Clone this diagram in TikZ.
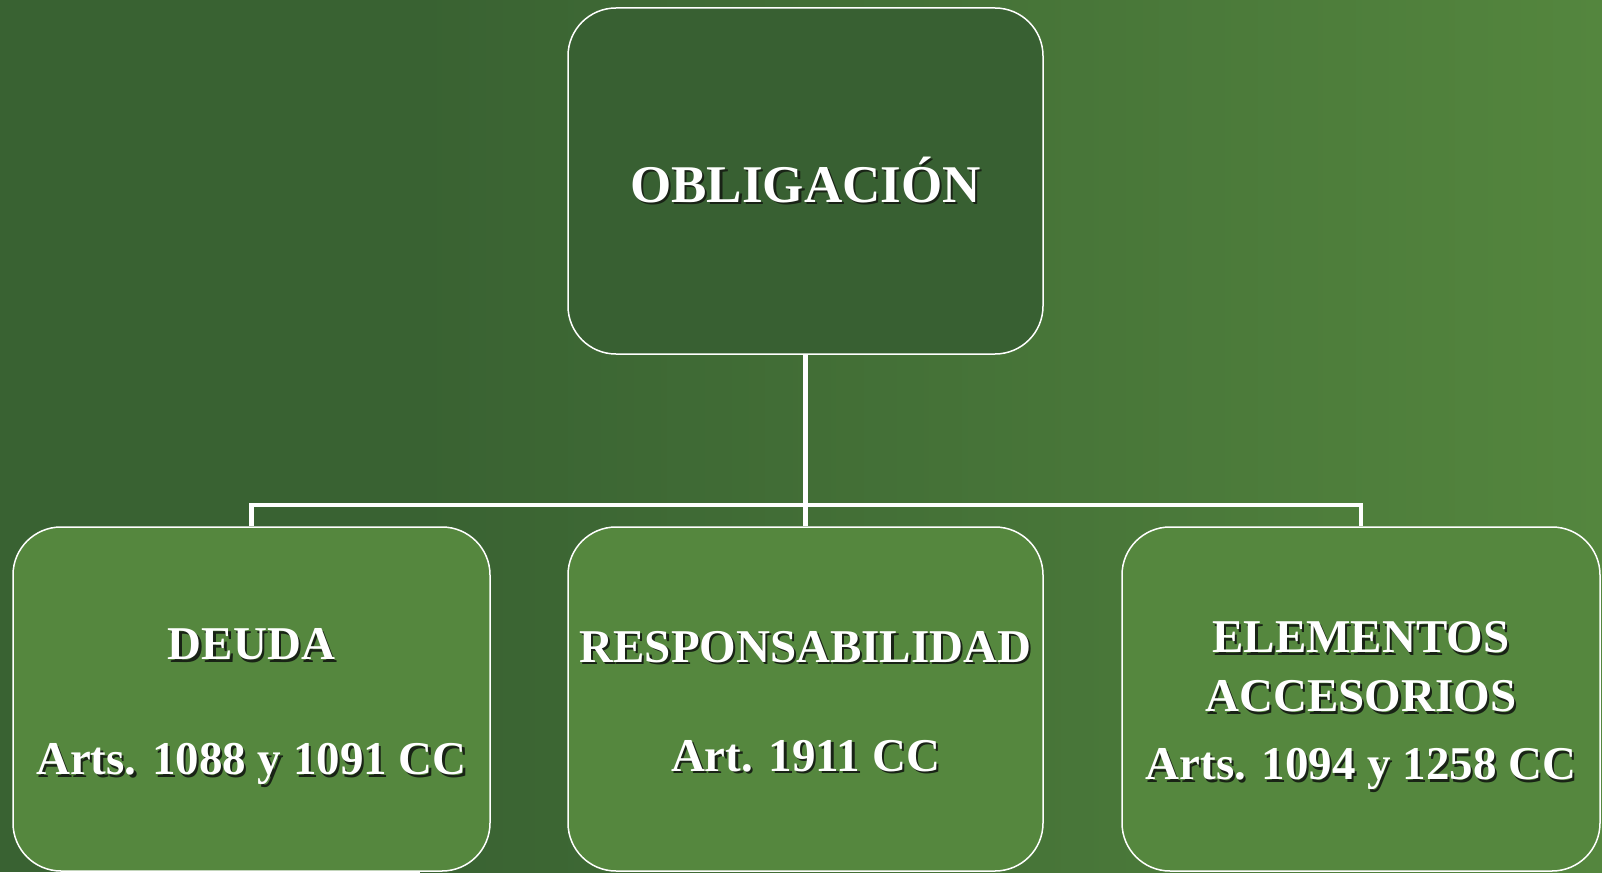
\documentclass[tikz,border=0pt]{standalone}
\usepackage{fontspec}
\setmainfont{Liberation Serif}
\usetikzlibrary{positioning}

\definecolor{bgdark}{RGB}{57,98,50}
\definecolor{bglight}{RGB}{84,134,62}
\definecolor{rootfill}{RGB}{56,96,50}
\definecolor{leaffill}{RGB}{85,135,62}
\definecolor{shadowc}{RGB}{25,35,22}

% white text with a small dark drop shadow
\newcommand{\shtxt}[1]{\leavevmode\rlap{\hspace{2.2pt}\raisebox{-2.2pt}{\color{shadowc}#1}}#1}

\tikzset{
  box/.style={draw=white, line width=1.5pt, rounded corners=48pt,
    text=white, align=center, font=\bfseries},
  rootbox/.style={box, fill=rootfill, minimum width=475pt, minimum height=346pt,
    font=\bfseries\fontsize{53}{62}\selectfont},
  leafbox/.style={box, fill=leaffill, minimum height=344pt,
    font=\bfseries\fontsize{47}{56}\selectfont},
  link/.style={draw=white, line width=4.5pt},
}

\begin{document}
\begin{tikzpicture}[x=1pt, y=-1pt]
  \useasboundingbox (0,0) rectangle (1602,872);
  \fill[bgdark] (0,0) rectangle (420,872);
  \shade[left color=bgdark, right color=bglight] (420,0) rectangle (1602,872);

  \node[rootbox] (oblig) at (805.5,181) {\shtxt{OBLIGACIÓN}};

  \node[leafbox, minimum width=477pt] (deuda) at (251.5,699)
    {\rule{0pt}{49pt}\shtxt{DEUDA}\\[59pt]\shtxt{Arts. 1088 y 1091 CC}};
  \node[leafbox, minimum width=475pt] (resp) at (805.5,699)
    {\rule{0pt}{39pt}\shtxt{RESPONSABILIDAD}\\[53pt]\shtxt{Art. 1911 CC}};
  \node[leafbox, minimum width=478pt] (elem) at (1361,699)
    {\rule{0pt}{47pt}\shtxt{ELEMENTOS}\\[3pt]\shtxt{ACCESORIOS}\\[12pt]\shtxt{Arts. 1094 y 1258 CC}};

  \coordinate (bus) at (805.5,505);
  \draw[link] (oblig.south) -- (resp.north);
  \draw[link] (deuda.north) |- (bus) -| (elem.north);
\end{tikzpicture}
\end{document}
